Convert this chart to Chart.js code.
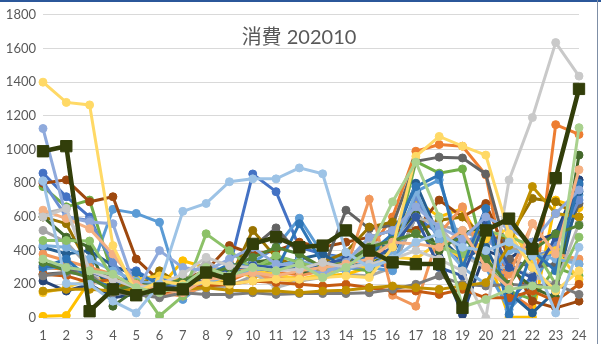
<!DOCTYPE html>
<html>
<head>
<meta charset="utf-8">
<script src="https://cdn.jsdelivr.net/npm/chart.js@4/dist/chart.umd.min.js"></script>
<style>
  html, body { margin: 0; padding: 0; background: #fff; }
  #wrap { position: relative; width: 601px; height: 344px; overflow: hidden; }
  #topline { position: absolute; left: 0; top: 0; width: 601px; height: 2px; background: #2B579A; }
  #rightline { position: absolute; left: 597px; top: 0; width: 1px; height: 344px; background: #7f8fa6; }
  #title {
    position: absolute; left: 0; width: 598px; top: 21px; text-align: center;
    font-family: Lato, "Noto Sans CJK JP", sans-serif; font-size: 20px; color: #595959;
  }
</style>
</head>
<body>
<div id="wrap">
  <canvas id="chart"></canvas>
  <div id="topline"></div>
  <div id="rightline"></div>
  <div id="title">消費 202010</div>
</div>
<script>
// categories (hour 1..24)
const hours = [1,2,3,4,5,6,7,8,9,10,11,12,13,14,15,16,17,18,19,20,21,22,23,24];
const yTicks = [0,200,400,600,800,1000,1200,1400,1600,1800];

// series values (many are rough guesses in the dense middle)
const blue      = [860,720,600,300,280,200,190,220,300,855,750,420,380,360,330,300,600,500,320,650,100,250,450,820];
const orange    = [300,290,250,180,160,150,170,200,220,280,270,260,300,320,400,600,990,1030,1020,850,150,60,1148,1090];
const gray      = [520,450,300,200,150,130,150,180,190,250,260,220,240,260,250,300,600,550,520,450,420,380,390,320];
const gold      = [10,15,220,250,150,180,340,300,270,250,230,220,250,260,300,480,700,600,650,400,5,5,700,655];
const midBlue   = [290,310,260,645,621,568,110,220,300,330,420,592,380,340,300,280,750,820,400,300,50,200,430,730];
const green     = [780,660,700,250,130,160,180,220,250,310,330,290,270,300,280,370,930,860,885,330,160,110,300,250];
const navy      = [220,160,200,120,140,200,210,200,260,270,300,330,310,330,420,380,650,360,20,400,350,450,500,820];
const brown     = [800,820,690,720,350,220,230,280,430,380,400,450,420,450,480,520,520,700,600,680,350,100,60,100];
const darkGray  = [260,270,300,230,200,150,230,250,220,420,535,380,280,640,530,550,930,955,950,855,350,300,320,680];
const darkGold  = [600,560,300,200,180,280,190,210,230,520,360,300,330,390,540,570,500,580,600,470,480,710,690,600];
const steelBlue = [420,380,400,310,250,230,210,220,280,260,300,350,380,300,400,450,800,480,350,420,150,30,160,750];
const darkGreen = [600,480,420,70,170,180,200,250,240,330,350,260,300,340,300,420,620,400,500,550,300,180,120,967];
const lavBlue   = [810,600,580,330,150,240,220,250,270,320,280,300,260,290,310,380,720,460,450,500,280,350,420,700];
const salmon    = [380,340,300,260,180,150,130,200,330,260,230,250,280,290,705,135,70,500,660,300,260,560,380,350];
const silver    = [620,650,280,150,140,190,210,340,250,270,180,220,250,330,450,440,600,550,370,300,300,250,200,560];
const sun       = [150,180,230,210,230,250,220,200,240,280,260,230,260,320,300,360,350,450,350,470,530,350,400,230];
const skyBlue   = [430,420,350,280,220,200,180,210,250,280,310,340,300,280,350,380,750,460,300,200,400,380,350,320];
const lime      = [460,460,457,240,210,12,130,500,400,290,370,330,290,350,360,450,500,420,380,520,480,430,200,480];
const cobalt    = [310,300,280,220,200,190,180,260,290,310,300,290,320,350,340,420,600,300,250,580,300,240,480,790];
const rust      = [260,250,210,230,200,150,170,190,200,220,210,200,190,200,180,160,160,140,170,120,120,160,100,200];
const slate     = [250,270,260,150,140,120,150,140,140,150,140,145,145,145,150,170,200,250,200,190,200,190,200,140];
const ochre     = [160,170,170,160,170,175,170,180,165,160,160,150,160,165,180,190,180,170,190,210,430,780,620,600];
const ocean     = [300,350,230,180,270,200,220,250,320,300,280,560,320,300,380,500,780,850,300,650,20,400,280,800];
const moss      = [330,280,240,160,200,190,230,260,300,360,420,380,300,330,420,460,500,420,480,350,200,400,500,550];
const periwink  = [1125,600,570,560,160,400,300,280,350,420,320,310,260,330,480,520,660,540,470,600,530,450,620,760];
const peach     = [640,590,530,380,200,170,150,230,240,270,250,280,300,320,350,450,440,420,520,300,180,560,380,880];
const lightGray = [600,650,280,230,180,200,260,360,310,300,280,290,330,300,320,350,400,350,280,0,820,1190,1635,1436];
const butter    = [1400,1280,1265,430,150,220,200,210,200,220,230,230,240,250,240,420,960,1078,1020,967,500,300,160,280];
const paleBlue  = [815,205,200,100,30,200,633,680,809,826,826,891,856,390,300,350,450,500,420,400,450,370,30,420];
const mint      = [350,300,280,260,180,150,190,300,250,300,280,320,240,300,400,690,925,600,65,110,170,190,175,1130];
const olive     = [990,1020,40,170,135,175,170,270,230,440,480,420,430,520,400,330,320,320,60,520,590,410,830,1360];

const seriesList = [
  [blue, '#4472C4'], [orange, '#ED7D31'], [gray, '#A5A5A5'], [gold, '#FFC000'],
  [midBlue, '#5B9BD5'], [green, '#70AD47'], [navy, '#264478'], [brown, '#9E480E'],
  [darkGray, '#636363'], [darkGold, '#997300'], [steelBlue, '#255E91'], [darkGreen, '#43682B'],
  [lavBlue, '#698ED0'], [salmon, '#F1975A'], [silver, '#B7B7B7'], [sun, '#FFCD33'],
  [skyBlue, '#7CAFDD'], [lime, '#8CC168'], [cobalt, '#335AA1'], [rust, '#C55A11'],
  [slate, '#7B7B7B'], [ochre, '#BF9000'], [ocean, '#2E75B6'], [moss, '#548235'],
  [periwink, '#8FAADC'], [peach, '#F4B183'], [lightGray, '#C9C9C9'], [butter, '#FFD966'],
  [paleBlue, '#9DC3E6'], [mint, '#A9D18E']
];

const n = seriesList.length;
// chart.js paints low "order" last, so later series get a lower order to sit on top like excel
const datasets = seriesList.map(([vals, col], i) => ({
  data: vals,
  order: n + 1 - i,
  borderColor: col,
  backgroundColor: col,
  pointBackgroundColor: col,
  pointBorderColor: col,
  borderWidth: 3,
  pointRadius: 4,
  pointBorderWidth: 1,
  tension: 0
}));

// the heavy one with square markers, drawn on top
datasets.push({
  data: olive,
  order: 0,
  borderColor: '#323E0A',
  backgroundColor: '#323E0A',
  pointBackgroundColor: '#323E0A',
  pointBorderColor: '#323E0A',
  borderWidth: 4.5,
  pointStyle: 'rect',
  pointRadius: 8,
  pointBorderWidth: 1,
  tension: 0
});

new Chart(document.getElementById('chart'), {
  type: 'line',
  data: { labels: hours, datasets: datasets },
  options: {
    responsive: true,
    maintainAspectRatio: false,
    animation: false,
    layout: { padding: { left: 0, right: 22, top: 11, bottom: 0 } },
    plugins: { legend: { display: false }, tooltip: { enabled: false } },
    scales: {
      x: {
        offset: false,
        grid: { display: false, drawTicks: false },
        border: { display: false },
        ticks: { color: '#595959', font: { family: 'Lato', size: 13 }, padding: 10, maxRotation: 0, autoSkip: false },
        afterFit: s => { s.height = 26; }
      },
      y: {
        min: 0, max: 1800,
        afterBuildTicks: s => { s.ticks = yTicks.map(v => ({ value: v })); },
        grid: { color: '#D9D9D9', lineWidth: 1, drawTicks: false },
        border: { display: false },
        ticks: { color: '#595959', font: { family: 'Lato', size: 13 }, padding: 7, callback: v => String(v) },
        afterFit: s => { s.width = 43; }
      }
    }
  }
});
</script>
</body>
</html>
